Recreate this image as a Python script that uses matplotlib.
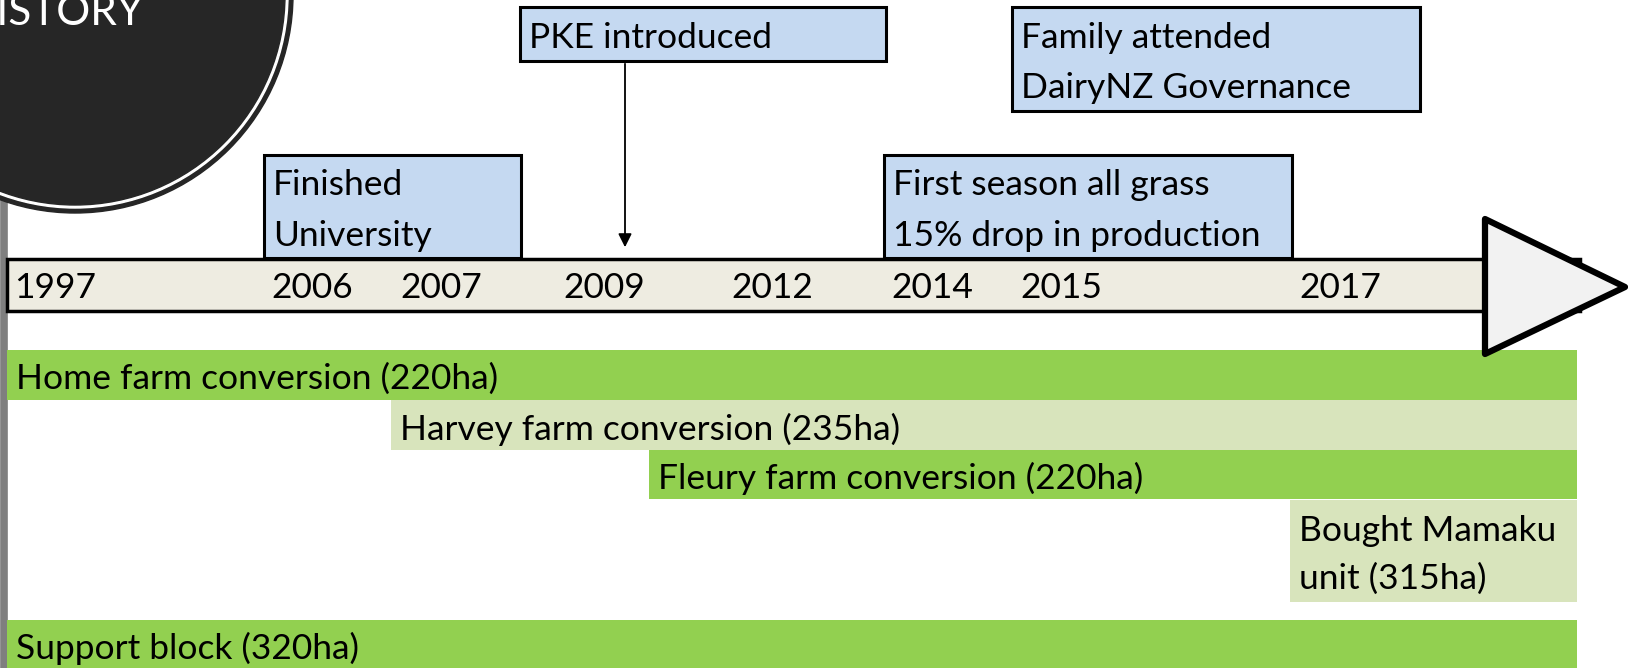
import numpy as np
import matplotlib
matplotlib.use("Agg")
from matplotlib import pyplot as plt
from matplotlib.patches import Circle, Polygon

plt.rcParams['font.family'] = ['Lato', 'DejaVu Sans']

# timeline year labels and where they sit on the bar (pixel units)
years = ["1997", "2006", "2007", "2009", "2012", "2014", "2015", "2017"]
year_x = [14, 271, 400, 563, 731, 891, 1020, 1299]

# event call-outs above the timeline
event_text = ["Finished\nUniversity", "PKE introduced",
              "Family attended\nDairyNZ Governance",
              "First season all grass\n15% drop in production"]
event_x0 = [264, 520, 1012, 884]
event_x1 = [521, 886, 1420, 1292]
event_y0 = [155, 7, 7, 155]
event_y1 = [258, 61, 111, 258]

# farm blocks below the timeline
farm_labels = ["Home farm conversion (220ha)", "Harvey farm conversion (235ha)",
               "Fleury farm conversion (220ha)", "Bought Mamaku\nunit (315ha)",
               "Support block (320ha)"]
farm_start = [7, 391, 649, 1290, 7]
farm_end = [1577, 1577, 1577, 1577, 1577]
farm_top = [350, 400, 450, 500, 620]
farm_bottom = [400, 450, 499, 602, 668]

GREEN = "#92D050"
LIGHT_GREEN = "#D8E4BC"
BLUE = "#C5D9F1"
FS = 25.5

fig = plt.figure(figsize=(16.28, 6.68), dpi=100)
ax = fig.add_axes([0, 0, 1, 1])
ax.set_xlim(0, 1628)
ax.set_ylim(668, 0)
ax.axis("off")

# grey rule down the left side
ax.plot([3.5, 3.5], [190, 668], color="#7F7F7F", lw=5.5, solid_capstyle="butt", zorder=1)

# title disc
ax.add_patch(Circle((75, -5), 218, color="#262626", zorder=2))
ax.add_patch(Circle((75, -5), 213, color="white", zorder=2))
ax.add_patch(Circle((75, -5), 210, color="#262626", zorder=2))
ax.text(143, 25, "HISTORY", color="white", fontsize=30.5, ha="right", va="baseline", zorder=3)

# farm bars
for i, lab in enumerate(farm_labels):
    col = GREEN if i % 2 == 0 else LIGHT_GREEN
    h = farm_bottom[i] - farm_top[i]
    ax.barh((farm_top[i] + farm_bottom[i]) / 2, farm_end[i] - farm_start[i],
            left=farm_start[i], height=h, color=col, zorder=2)
    ax.text(farm_start[i] + 9, (farm_top[i] + farm_bottom[i]) / 2 + 4, lab,
            fontsize=FS, va="center", ha="left", linespacing=1.6, zorder=3)

# timeline bar
ax.barh(285, 1580 - 7, left=7, height=52, color="#EEECE1", edgecolor="black", lw=2.5, zorder=3)
for y, x in zip(years, year_x):
    ax.text(x, 288, y, fontsize=FS, va="center", ha="left", zorder=4)

# arrow head
ax.add_patch(Polygon([[1485, 219], [1625, 287], [1485, 354]], closed=True,
                     facecolor="#F2F2F2", edgecolor="black", lw=4.5, joinstyle="round", zorder=5))

# event boxes
for i, txt in enumerate(event_text):
    ax.bar((event_x0[i] + event_x1[i]) / 2, event_y1[i] - event_y0[i],
           bottom=event_y0[i], width=event_x1[i] - event_x0[i],
           color=BLUE, edgecolor="black", lw=2.2, zorder=2)
    ax.text(event_x0[i] + 9, (event_y0[i] + event_y1[i]) / 2 + 4, txt,
            fontsize=FS, va="center", ha="left", linespacing=1.7, zorder=3)

# PKE arrow down to the timeline
ax.annotate("", xy=(625, 250), xytext=(625, 61),
            arrowprops=dict(arrowstyle="-|>", color="black", lw=1.3, mutation_scale=20), zorder=3)

fig.savefig("out.png", dpi=100)
